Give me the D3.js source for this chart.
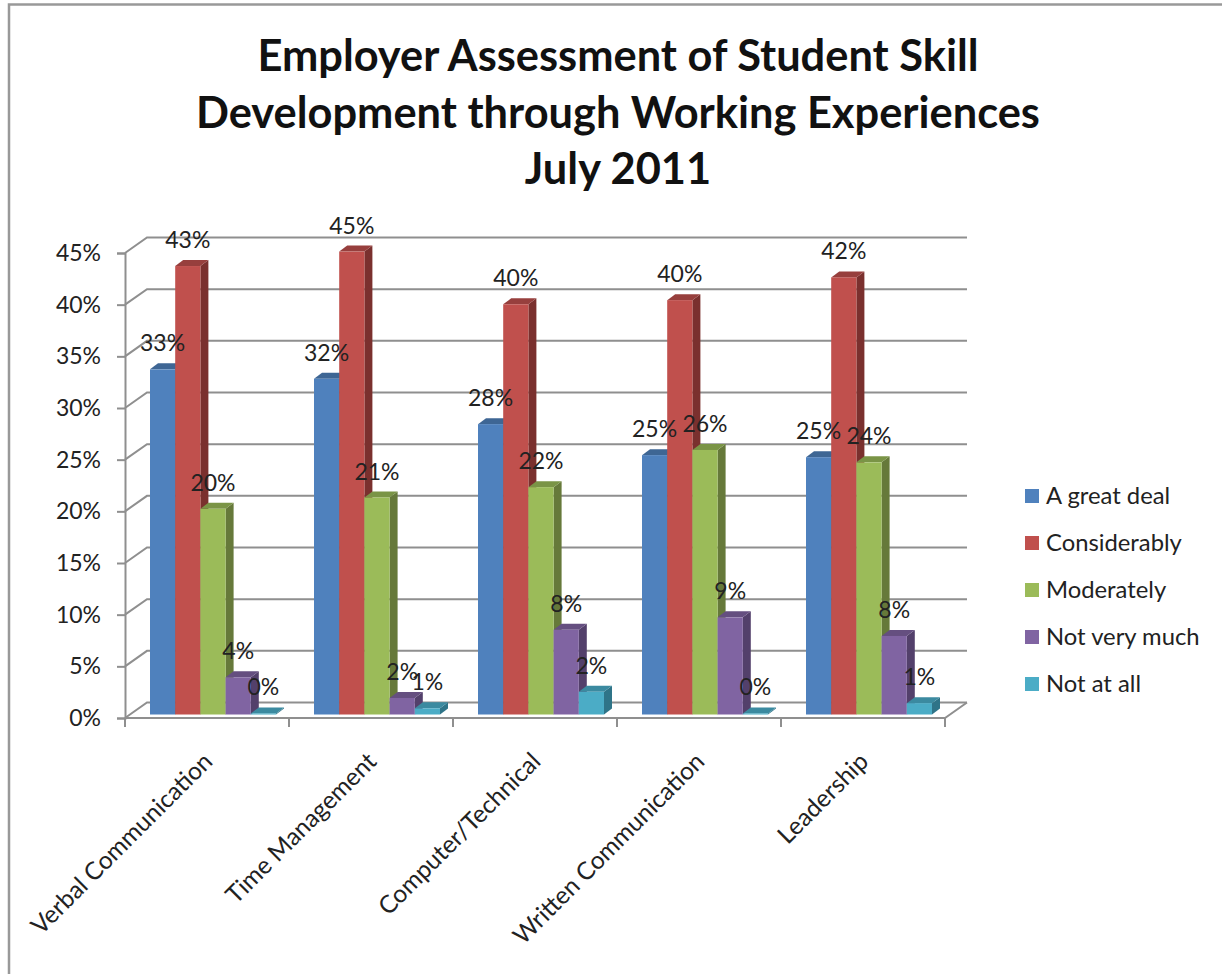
<!DOCTYPE html>
<html>
<head>
<meta charset="utf-8">
<title>Employer Assessment of Student Skill Development</title>
<script src="https://cdn.jsdelivr.net/npm/d3@7/dist/d3.min.js"></script>
<style>
  html, body { margin: 0; padding: 0; background: #fff; }
  svg { display: block; }
  text { font-family: Lato, "Open Sans", sans-serif; fill: #222; }
</style>
</head>
<body>
<svg id="chart" width="1222" height="974"></svg>
<script>
// Survey results, percent of employers per response
const titleLines = ["Employer Assessment of Student Skill", "Development through Working Experiences", "July 2011"];
const categories = ["Verbal Communication", "Time Management", "Computer/Technical", "Written Communication", "Leadership"];
const seriesNames = ["A great deal", "Considerably", "Moderately", "Not very much", "Not at all"];
const greatDeal = [33.4, 32.49, 28.1, 25.1, 24.9];
const considerably = [43.4, 44.8, 39.7, 40.1, 42.3];
const moderately = [19.9, 21.0, 22.0, 25.6, 24.4];
const notVeryMuch = [3.6, 1.6, 8.2, 9.4, 7.6];
const notAtAll = [0.1, 0.6, 2.2, 0.1, 1.1];
const seriesValues = [greatDeal, considerably, moderately, notVeryMuch, notAtAll];
const tickValues = [0, 5, 10, 15, 20, 25, 30, 35, 40, 45];

const frontColors = ["#4f81bd", "#c0504d", "#9bbb59", "#8064a2", "#4bacc6"];
const topColors = ["#3e6694", "#973f3d", "#7a9446", "#654f80", "#3b8aa0"];
const sideColors = ["#2f4e72", "#7a302e", "#66793a", "#53406b", "#2f7488"];

const svg = d3.select("#chart");
const gridColor = "#8f8f8f";

// Plot geometry: a front plane plus a wall pushed back for the 3-D look
const wallDx = 22, wallDy = -15.5;
const barDx = 8, barDy = -6, barLift = 3.5;

const y = d3.scaleLinear().domain([0, 45]).range([718, 253]);
const x0 = d3.scaleBand().domain(categories).range([125, 945]);
const x1 = d3.scaleBand().domain(seriesNames).range([25, 151]);
const xRight = x0.range()[1];

// Outer frame, open on the right and bottom
svg.append("path")
  .attr("d", "M9,974V4.5H1222")
  .attr("fill", "none").attr("stroke", "#999").attr("stroke-width", 2.5);

// Title
svg.append("g").selectAll("text").data(titleLines).join("text")
  .attr("x", 618)
  .attr("y", (d, i) => 71 + i * 56.5)
  .attr("text-anchor", "middle")
  .attr("font-size", 43.4)
  .attr("font-weight", 700)
  .style("fill", "#111")
  .text(d => d);

// Back wall gridlines with their diagonal returns to the front axis
const grid = svg.append("g")
  .attr("fill", "none").attr("stroke", gridColor).attr("stroke-width", 2);
grid.selectAll("path").data(tickValues).join("path")
  .attr("d", d => `M${x0.range()[0]},${y(d)}l${wallDx},${wallDy}H${xRight + wallDx}`);
// Floor outline
grid.append("path")
  .attr("d", `M${x0.range()[0]},${y(0)}H${xRight}l${wallDx},${wallDy}`);

// Value axis
const yAxis = svg.append("g")
  .attr("transform", `translate(${x0.range()[0]},0)`)
  .call(d3.axisLeft(y).tickValues(tickValues).tickSize(8).tickPadding(16).tickFormat(d => d + "%"));
yAxis.select(".domain").attr("stroke", gridColor).attr("stroke-width", 2);
yAxis.selectAll("line").attr("stroke", gridColor).attr("stroke-width", 2);
yAxis.selectAll("text").attr("font-size", 23);

// Category axis: tick marks at group boundaries, labels drawn separately
const boundaries = categories.map(c => x0(c)).concat([xRight]);
svg.append("g").selectAll("line").data(boundaries).join("line")
  .attr("x1", d => d).attr("x2", d => d)
  .attr("y1", y(0)).attr("y2", y(0) + 9)
  .attr("stroke", gridColor).attr("stroke-width", 2);

svg.append("g").selectAll("text").data(categories).join("text")
  .attr("transform", c => `translate(${x0(c) + x0.bandwidth() / 2 + 7},${y(0) + 45}) rotate(-45)`)
  .attr("text-anchor", "end")
  .attr("font-size", 24.5)
  .text(c => c);

// Bars: each drawn as front, top and side faces, left to right so neighbours overlap correctly
const bars = svg.append("g");
const labels = [];
seriesNames.forEach((name, s) => {
  const w = x1.bandwidth();
  categories.forEach((cat, c) => {
    const v = seriesValues[s][c];
    const left = x0(cat) + x1(name);
    const bottom = y(0) - barLift;
    const top = y(v) - barLift;
    bars.append("path").attr("fill", sideColors[s])
      .attr("d", `M${left + w},${top}l${barDx},${barDy}V${bottom + barDy}l${-barDx},${-barDy}Z`);
    bars.append("path").attr("fill", topColors[s])
      .attr("d", `M${left},${top}l${barDx},${barDy}h${w}l${-barDx},${-barDy}Z`);
    bars.append("rect").attr("fill", frontColors[s])
      .attr("x", left).attr("y", top).attr("width", w).attr("height", bottom - top);
    labels.push({ x: left + w / 2, y: top, v });
  });
});

// Data labels sit above every bar, over any neighbouring faces
svg.append("g").selectAll("text").data(labels).join("text")
  .attr("x", d => d.x)
  .attr("y", d => d.y - 18)
  .attr("text-anchor", "middle")
  .attr("font-size", 23)
  .text(d => Math.round(d.v) + "%");

// Legend
const legendY = d3.scalePoint().domain(seriesNames).range([496, 684]);
const legend = svg.append("g").selectAll("g").data(seriesNames).join("g")
  .attr("transform", d => `translate(1025,${legendY(d)})`);
legend.append("rect")
  .attr("x", 0).attr("y", -7).attr("width", 14).attr("height", 14)
  .attr("fill", (d, i) => frontColors[i]);
legend.append("text")
  .attr("x", 21).attr("y", 8)
  .attr("font-size", 23.8)
  .text(d => d);
</script>
</body>
</html>
